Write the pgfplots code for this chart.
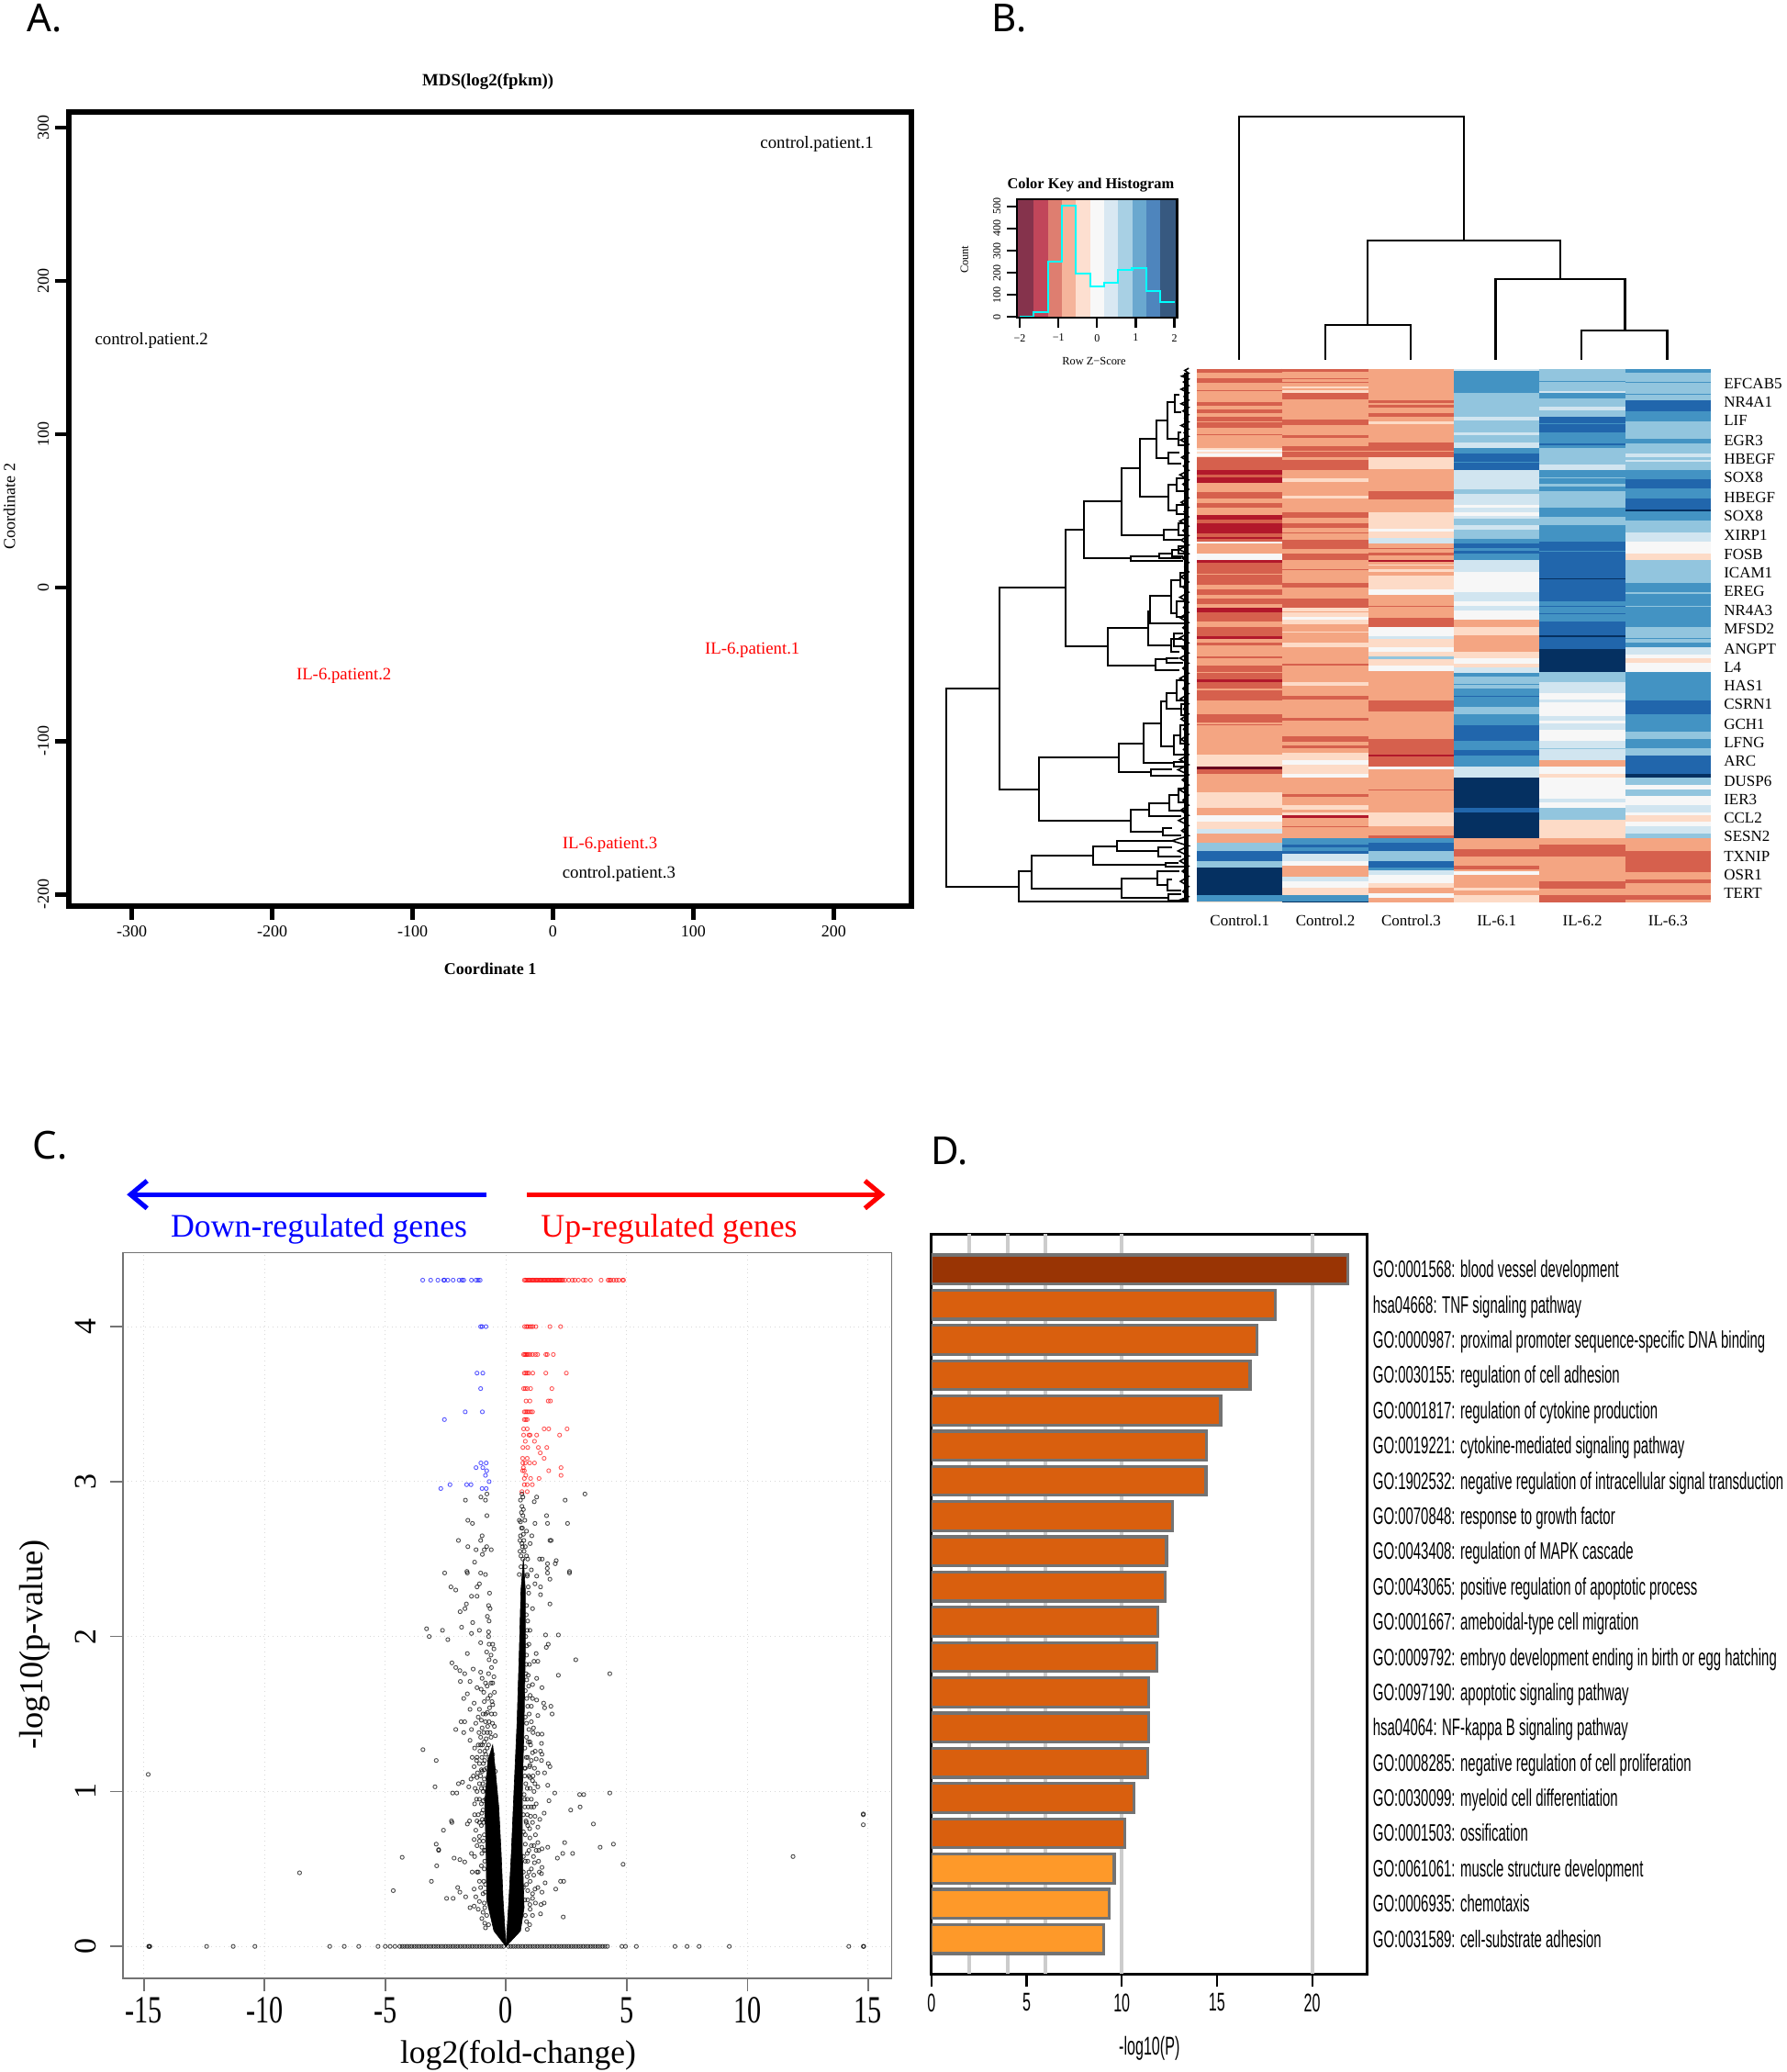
\documentclass[border=0pt]{standalone}
\usepackage{fontspec}
\usepackage{pgfplots}
\usepackage{pgfplotstable}
\pgfplotsset{compat=1.18}
\usetikzlibrary{arrows.meta}
\setmainfont{Liberation Serif}
\newfontfamily\lettersf{Noto Sans}
\newfontfamily\narrowsf[FakeStretch=0.575]{Liberation Sans}
\newfontfamily\tallrm[FakeStretch=0.72]{Liberation Serif}
\newcommand{\fs}[1]{\fontsize{#1}{#1}\selectfont}

% RdBu, 11 levels
\pgfplotsset{
  colormap={rdbu}{rgb255=(103,0,31) rgb255=(178,24,43) rgb255=(214,96,77) rgb255=(244,165,130)
    rgb255=(253,219,199) rgb255=(247,247,247) rgb255=(209,229,240) rgb255=(146,197,222)
    rgb255=(67,147,195) rgb255=(33,102,172) rgb255=(5,48,97)}
}
\definecolor{k0}{RGB}{133,51,76}
\definecolor{k1}{RGB}{193,70,90}
\definecolor{k2}{RGB}{222,126,112}
\definecolor{k3}{RGB}{245,180,155}
\definecolor{k4}{RGB}{253,223,208}
\definecolor{k5}{RGB}{248,248,248}
\definecolor{k6}{RGB}{217,232,242}
\definecolor{k7}{RGB}{168,208,228}
\definecolor{k8}{RGB}{106,168,207}
\definecolor{k9}{RGB}{78,133,189}
\definecolor{k10}{RGB}{55,89,128}
\definecolor{histline}{RGB}{0,255,255}
\definecolor{barA}{HTML}{993404}
\definecolor{barB}{HTML}{D95F0E}
\definecolor{barC}{HTML}{FE9929}

% heatmap columns: top of band (px) and colour level
\pgfplotstableread{
y v
401 2
405 3
411 2
416 3
421 3
424 2
425 3
437 2
441 3
445 2
449 3
453 2
458 3
459 2
465 3
472 2
473 3
487 4
489 5
491 4
493 5
496 4
497 2
505 3
506 2
512 1
517 2
520 1
526 3
536 2
543 3
548 2
553 3
561 1
566 2
570 1
577 1
581 2
585 1
587 2
590 5
592 3
603 5
610 1
613 2
625 3
626 2
637 3
642 2
648 3
652 2
658 3
662 1
667 2
677 3
683 2
693 1
696 3
700 2
703 3
715 2
717 3
725 2
732 3
733 2
740 1
743 2
750 3
752 2
763 3
778 2
787 3
789 2
790 3
800 3
822 4
835 0
838 2
843 3
863 4
880 3
888 5
895 4
903 6
908 3
918 7
927 9
938 7
945 10
975 8
982 4
983 4
}\colA
\pgfplotstableread{
y v
401 2
404 3
411 2
412 3
415 2
416 3
420 4
422 3
424 4
427 2
434 3
456 2
462 3
473 2
476 3
481 3
485 2
490 3
491 2
497 3
500 2
505 3
506 2
512 3
521 4
525 3
540 4
543 3
558 2
564 3
570 2
575 3
580 2
581 3
588 2
598 3
603 2
610 3
620 2
621 3
635 2
640 3
652 2
662 4
666 3
667 4
672 5
675 4
680 3
688 4
689 3
700 4
705 3
723 2
725 3
743 4
747 3
758 2
762 3
782 2
785 3
802 2
808 3
812 2
815 3
820 4
828 5
833 4
843 5
847 3
865 2
868 3
877 4
882 3
885 4
888 1
891 3
900 2
901 3
913 8
920 9
923 8
927 9
930 6
938 5
943 3
955 6
960 5
967 4
975 8
982 10
983 10
}\colB
\pgfplotstableread{
y v
401 3
435 2
438 3
440 2
443 3
449 2
453 3
458 4
461 3
481 2
490 3
491 2
497 4
511 3
535 2
544 3
558 4
576 5
579 4
586 6
592 3
597 2
598 3
602 2
605 3
610 1
612 3
615 4
616 3
620 4
623 3
627 4
642 5
648 3
660 2
661 3
673 2
683 5
693 6
696 4
705 5
710 4
715 7
718 4
725 5
731 3
763 2
775 3
805 2
822 1
824 2
835 5
838 3
860 2
861 3
875 3
885 4
900 3
910 2
913 8
918 9
927 7
938 9
945 8
948 6
953 5
962 4
967 3
973 5
978 3
983 3
}\colC
\pgfplotstableread{
y v
401 6
403 8
427 7
453 6
457 7
470 6
473 7
481 6
487 8
493 9
502 8
503 9
512 6
533 7
538 6
550 5
553 6
558 5
562 6
565 7
572 6
577 7
587 8
592 9
597 8
600 9
603 8
610 6
623 5
645 6
655 5
660 6
665 5
675 3
683 4
692 3
710 4
717 5
723 4
727 6
733 8
737 7
745 8
746 7
750 8
758 9
759 8
770 7
778 8
790 9
807 8
817 9
823 8
835 6
847 10
880 9
885 10
913 3
925 2
933 3
943 2
947 3
949 5
953 3
967 4
970 3
975 4
983 4
}\colD
\pgfplotstableread{
y v
401 7
414 8
415 7
425 6
427 8
433 7
442 6
446 7
453 9
460 8
461 9
470 8
482 9
484 8
487 7
505 6
512 8
520 7
521 8
527 7
530 8
535 7
553 8
563 7
572 8
590 9
600 8
601 9
630 10
631 9
655 8
660 9
661 8
668 9
669 8
677 9
692 10
694 9
707 10
732 7
743 6
755 5
762 6
765 5
780 6
785 5
788 6
795 5
807 6
815 7
816 6
828 3
835 5
843 4
847 5
870 6
874 5
880 7
893 4
913 3
920 2
933 3
960 2
968 3
975 2
983 2
}\colE
\pgfplotstableread{
y v
401 8
405 7
415 8
416 7
428 8
429 7
435 9
447 8
458 7
477 8
482 7
493 6
497 7
500 6
502 7
512 8
522 9
532 8
543 9
555 10
557 8
567 7
580 6
590 5
603 4
610 7
635 8
645 7
647 8
660 7
661 8
677 8
683 7
695 8
696 7
700 8
705 6
713 5
717 4
722 5
732 8
763 9
778 8
797 7
805 8
815 7
823 9
843 10
847 7
855 5
860 7
867 5
877 6
885 5
888 4
895 5
900 6
908 7
913 3
927 2
950 3
958 2
962 3
975 2
980 3
983 3
}\colF

\pgfplotsset{heatcol/.style={mesh, shader=flat corner, line width=46.7pt, point meta=explicit, forget plot}}

\begin{document}
\begin{tikzpicture}
\useasboundingbox (0,0) rectangle (973.44pt,1128.96pt);

% ---- A. MDS
\begin{axis}[
  name=mds, at={(37.44pt,635.04pt)}, anchor=south west,
  scale only axis, width=459.36pt, height=432.72pt,
  xmin=-345, xmax=255.5, ymin=-207.8, ymax=310,
  axis line style={line width=3pt},
  tick pos=left, tick align=outside, major tick length=7.2pt,
  tick style={line width=2.2pt, black},
  xtick={-300,-200,-100,0,100,200}, xticklabels={-300,-200,-100,0,100,200},
  ytick={-200,-100,0,100,200,300}, yticklabels={-200,-100,0,100,200,300},
  tick label style={font=\fs{9}},
  yticklabel style={rotate=90, anchor=south},
  title={\bfseries MDS(log2(fpkm))},
  title style={at={(axis description cs:0.4975,1.0416)}, anchor=center, yshift=-7.4pt, font=\fs{9.4}},
  xlabel={\bfseries Coordinate 1},
  xlabel style={at={(axis description cs:0.5,-0.078)}, anchor=center, font=\fs{9}},
  ylabel={Coordinate 2},
  ylabel style={at={(axis description cs:-0.0705,0.504)}, anchor=center, font=\fs{9}},
  nodes near coords, point meta=explicit symbolic,
  nodes near coords style={anchor=center, font=\fs{9.4}, yshift=-1.4pt, xshift=0.8pt},
  clip=false,
]
\addplot[only marks, mark=none] coordinates {
  (187,291) [control.patient.1]
  (-287,163) [control.patient.2]
  (46,-185) [control.patient.3]
};
\addplot[only marks, mark=none, nodes near coords style={text=red}] coordinates {
  (141,-39) [IL-6.patient.1]
  (-150,-56) [IL-6.patient.2]
  (39.5,-166) [IL-6.patient.3]
};
\end{axis}

% ---- B. colour key
\begin{axis}[
  at={(554.4pt,955.87pt)}, anchor=south west,
  scale only axis, width=87.1pt, height=64.5pt,
  xmin=-2.064, xmax=2.07, ymin=-4, ymax=533,
  axis line style={line width=1.1pt},
  axis on top,
  tick pos=left, tick align=outside, major tick length=5.5pt,
  tick style={line width=1.1pt, black},
  xtick={-2,-1,0,1,2}, xticklabels={−2,−1,0,1,2},
  ytick={0,100,200,300,400,500}, yticklabels={0,100,200,300,400,500},
  tick label style={font=\fs{6}},
  yticklabel style={rotate=90, anchor=south},
  title={\bfseries Color Key and Histogram},
  title style={at={(axis description cs:0.46,1.145)}, anchor=center, yshift=-7.4pt, font=\fs{8.2}},
  xlabel={Row Z−Score},
  xlabel style={at={(axis description cs:0.48,-0.37)}, anchor=center, font=\fs{6.2}},
  ylabel={Count},
  ylabel style={at={(axis description cs:-0.33,0.49)}, anchor=center, font=\fs{6.2}},
]
\addplot[fill=k0,draw=none] coordinates {(-2.064,-4)(-1.636,-4)(-1.636,533)(-2.064,533)} -- cycle;
\addplot[fill=k1,draw=none] coordinates {(-1.636,-4)(-1.273,-4)(-1.273,533)(-1.636,533)} -- cycle;
\addplot[fill=k2,draw=none] coordinates {(-1.273,-4)(-0.909,-4)(-0.909,533)(-1.273,533)} -- cycle;
\addplot[fill=k3,draw=none] coordinates {(-0.909,-4)(-0.545,-4)(-0.545,533)(-0.909,533)} -- cycle;
\addplot[fill=k4,draw=none] coordinates {(-0.545,-4)(-0.182,-4)(-0.182,533)(-0.545,533)} -- cycle;
\addplot[fill=k5,draw=none] coordinates {(-0.182,-4)(0.182,-4)(0.182,533)(-0.182,533)} -- cycle;
\addplot[fill=k6,draw=none] coordinates {(0.182,-4)(0.545,-4)(0.545,533)(0.182,533)} -- cycle;
\addplot[fill=k7,draw=none] coordinates {(0.545,-4)(0.909,-4)(0.909,533)(0.545,533)} -- cycle;
\addplot[fill=k8,draw=none] coordinates {(0.909,-4)(1.273,-4)(1.273,533)(0.909,533)} -- cycle;
\addplot[fill=k9,draw=none] coordinates {(1.273,-4)(1.636,-4)(1.636,533)(1.273,533)} -- cycle;
\addplot[fill=k10,draw=none] coordinates {(1.636,-4)(2.07,-4)(2.07,533)(1.636,533)} -- cycle;
\addplot[const plot, histline, line width=1.1pt] coordinates {
  (-2,0)(-1.636,20)(-1.273,250)(-0.909,505)(-0.545,197)(-0.182,137)(0.182,155)(0.545,212)(0.909,222)(1.273,117)(1.636,68)(2,68)
};
\end{axis}

% ---- B. heatmap
\begin{axis}[
  at={(652.32pt,637.2pt)}, anchor=south west,
  scale only axis, width=280.08pt, height=290.88pt,
  xmin=0.5, xmax=6.5, ymin=401, ymax=983, y dir=reverse,
  point meta min=0, point meta max=10, colormap name=rdbu,
  axis line style={draw=none}, tick style={draw=none},
  clip=true,
  xtick={1,2,3,4,5,6},
  xticklabels={Control.1,Control.2,Control.3,IL-6.1,IL-6.2,IL-6.3},
  xticklabel pos=lower,
  x tick label style={font=\fs{8.5}, yshift=-3.4pt},
  ytick={417.4,437.5,457.7,479.3,499.4,519.6,541.2,561.3,582.9,603.1,623.2,643.4,664.9,685.1,706.7,726.8,747,767.1,788.7,808.9,829,850.6,870.8,890.9,911,932.7,952.8,973},
  yticklabels={EFCAB5,NR4A1,LIF,EGR3,HBEGF,SOX8,HBEGF,SOX8,XIRP1,FOSB,ICAM1,EREG,NR4A3,MFSD2,ANGPT,L4,HAS1,CSRN1,GCH1,LFNG,ARC,DUSP6,IER3,CCL2,SESN2,TXNIP,OSR1,TERT},
  yticklabel pos=right,
  y tick label style={font=\fs{8.5}, anchor=west, xshift=3.6pt},
]
\addplot[heatcol] table[x expr=1, y=y, meta=v] {\colA};
\addplot[heatcol] table[x expr=2, y=y, meta=v] {\colB};
\addplot[heatcol] table[x expr=3, y=y, meta=v] {\colC};
\addplot[heatcol] table[x expr=4, y=y, meta=v] {\colD};
\addplot[heatcol] table[x expr=5, y=y, meta=v] {\colE};
\addplot[heatcol] table[x expr=6, y=y, meta=v] {\colF};
\end{axis}

% ---- B. row dendrogram, in the pixel frame of the crop
\begin{axis}[
  at={(510.26pt,624.24pt)}, anchor=south west,
  scale only axis, width=150.1pt, height=309.6pt,
  xmin=0, xmax=900, ymin=0, ymax=1568, y dir=reverse,
  hide axis, unbounded coords=jump,
]
\addplot[black, line width=1pt] coordinates {
(207,912)(33,912)(33,1460)(270,1460)(nan,nan)
(422,634)(207,634)(207,1190)(337,1190)(nan,nan)
(483,474)(422,474)(422,796)(560,796)(nan,nan)
(607,395)(483,395)(483,553)(636,553)(nan,nan)
(666,303)(607,303)(607,488)(745,488)(nan,nan)
(720,224)(666,224)(666,383)(758,383)(nan,nan)
(755,172)(720,172)(720,276)(758,276)(nan,nan)
(780,122)(755,122)(755,224)(790,224)(nan,nan)
(795,100)(780,100)(780,150)(800,150)(nan,nan)
(800,205)(790,205)(790,240)(810,240)(nan,nan)
(795,262)(758,262)(758,290)(800,290)(nan,nan)
(785,350)(758,350)(758,420)(785,420)(nan,nan)
(810,332)(785,332)(785,368)(810,368)(nan,nan)
(810,405)(785,405)(785,430)(820,430)(nan,nan)
(790,473)(745,473)(745,502)(800,502)(nan,nan)
(810,455)(790,455)(790,490)(815,490)(nan,nan)
(730,546)(636,546)(636,560)(805,560)(nan,nan)
(770,540)(730,540)(730,553)(800,553)(nan,nan)
(790,530)(770,530)(770,548)(805,548)(nan,nan)
(815,518)(790,518)(790,540)(815,540)(nan,nan)
(692,744)(560,744)(560,848)(716,848)(nan,nan)
(700,700)(692,700)(692,793)(768,793)(nan,nan)
(768,657)(700,657)(700,733)(815,733)(nan,nan)
(797,612)(768,612)(768,705)(785,705)(nan,nan)
(815,592)(797,592)(797,630)(815,630)(nan,nan)
(815,670)(785,670)(785,715)(810,715)(nan,nan)
(800,775)(768,775)(768,810)(795,810)(nan,nan)
(805,760)(775,760)(775,795)(815,795)(nan,nan)
(752,832)(716,832)(716,860)(795,860)(nan,nan)
(790,828)(752,828)(752,840)(805,840)(nan,nan)
(598,1103)(337,1103)(337,1277)(636,1277)(nan,nan)
(678,1064)(598,1064)(598,1143)(702,1143)(nan,nan)
(735,1008)(678,1008)(678,1118)(775,1118)(nan,nan)
(752,947)(735,947)(735,1071)(775,1071)(nan,nan)
(785,925)(752,925)(752,968)(800,968)(nan,nan)
(815,890)(785,890)(785,945)(815,945)(nan,nan)
(815,955)(800,955)(800,985)(820,985)(nan,nan)
(797,1042)(775,1042)(775,1095)(810,1095)(nan,nan)
(815,1012)(797,1012)(797,1065)(815,1065)(nan,nan)
(810,1115)(775,1115)(775,1128)(815,1128)(nan,nan)
(770,1135)(702,1135)(702,1152)(810,1152)(nan,nan)
(697,1245)(636,1245)(636,1307)(740,1307)(nan,nan)
(762,1228)(697,1228)(697,1263)(800,1263)(nan,nan)
(790,1205)(762,1205)(762,1250)(815,1250)(nan,nan)
(815,1187)(790,1187)(790,1225)(815,1225)(nan,nan)
(770,1296)(740,1296)(740,1318)(800,1318)(nan,nan)
(312,1417)(270,1417)(270,1500)(825,1500)(nan,nan)
(512,1372)(312,1372)(312,1463)(605,1463)(nan,nan)
(590,1347)(512,1347)(512,1397)(750,1397)(nan,nan)
(770,1332)(590,1332)(590,1360)(725,1360)(nan,nan)
(770,1350)(725,1350)(725,1375)(800,1375)(nan,nan)
(790,1392)(750,1392)(750,1403)(815,1403)(nan,nan)
(722,1437)(605,1437)(605,1490)(760,1490)(nan,nan)
(795,1415)(722,1415)(722,1455)(755,1455)(nan,nan)
(770,1440)(755,1440)(755,1470)(800,1470)(nan,nan)
(800,1480)(760,1480)(760,1497)(825,1497)
};
\addplot[black, line width=0.8pt] coordinates {
(825,28)(812,34)(825,42)(802,50)(825,58)(808,66)(825,76)(800,86)(825,96)(810,106)(825,116)(800,126)(825,136)(806,146)(825,156)(812,166)(825,176)(800,186)(825,196)(810,206)(825,216)(798,226)(825,238)(812,250)(825,262)(802,274)(825,286)(808,298)(825,310)(796,322)(825,336)(806,348)(825,362)(812,374)(825,386)(800,398)(825,412)(810,424)(825,438)(796,450)(825,464)(806,476)(825,490)(800,502)(825,516)(792,528)(825,540)(804,552)(825,564)(812,576)(825,590)(800,604)(825,618)(806,632)(825,646)(796,660)(825,674)(808,688)(825,702)(796,716)(825,730)(806,744)(825,758)(796,772)(825,786)(804,800)(825,814)(796,828)(825,842)(806,856)(825,870)(796,884)(825,898)(806,912)(825,926)(798,940)(825,954)(808,968)(825,982)(800,996)(825,1010)(808,1024)(825,1038)(800,1052)(825,1066)(808,1080)(825,1094)(796,1108)(825,1122)(790,1136)(825,1150)(804,1164)(825,1178)(796,1192)(825,1206)(806,1220)(825,1234)(798,1248)(825,1262)(792,1276)(825,1290)(802,1304)(825,1318)(770,1332)(825,1346)(790,1360)(825,1374)(796,1388)(825,1402)(804,1416)(825,1430)(798,1444)(825,1458)(806,1472)(825,1486)(800,1494)(825,1500)
};
\addplot[black, line width=2.4pt] coordinates {(817,40)(817,1498)};
\end{axis}

% ---- C. volcano
\begin{axis}[
  at={(66.96pt,51.12pt)}, anchor=south west,
  scale only axis, width=419.04pt, height=395.28pt,
  xmin=-15.87, xmax=15.98, ymin=-0.205, ymax=4.477,
  axis line style={draw=black!55, line width=0.8pt},
  tick pos=left, tick align=outside, major tick length=7pt,
  tick style={draw=black!55, line width=0.8pt},
  grid=major, grid style={dotted, black!15, line width=0.4pt},
  xtick={-15,-10,-5,0,5,10,15}, xticklabels={-15,-10,-5,0,5,10,15},
  ytick={0,1,2,3,4}, yticklabels={0,1,2,3,4},
  x tick label style={font=\tallrm\fs{21}},
  y tick label style={font=\fs{17}, rotate=90, anchor=south, yshift=4pt},
  xlabel={log2(fold-change)},
  xlabel style={at={(axis description cs:0.514,-0.1065)}, anchor=center, font=\fs{17.8}},
  ylabel={-log10(p-value)},
  ylabel style={at={(axis description cs:-0.115,0.46)}, anchor=center, font=\fs{18.2}},
  cycle list={},
]
% dense core of the V
\addplot[fill=black, draw=black, line width=0.3pt, forget plot] coordinates {
  (0,0)(-0.5,0.1)(-0.8,0.3)(-0.82,0.6)(-0.88,0.92)(-0.75,1.2)(-0.55,1.3)(-0.45,1.15)(-0.3,0.9)(-0.2,0.6)(-0.12,0.3)(-0.04,0.1)} -- cycle;
\addplot[fill=black, draw=black, line width=0.3pt, forget plot] coordinates {
  (0,0)(0.6,0.1)(0.75,0.25)(0.68,0.6)(0.68,1)(0.75,1.45)(0.8,1.9)(0.8,2.3)(0.72,2.5)(0.62,2.3)(0.55,1.9)(0.46,1.45)(0.33,1)(0.22,0.6)(0.12,0.3)(0.04,0.1)} -- cycle;
% not significant
\addplot[only marks, mark=o, mark size=1.05pt, mark options={draw=black, draw opacity=0.7, line width=0.45pt}] coordinates {
(-14.8,0)(-14.78,0)(-14.75,0)(-12.4,0)(-11.3,0)(-10.4,0)(-7.3,0)(-6.7,0)(-6.1,0)(-5.3,0)(-5,0)(-4.8,0)(-4.6,0)
(-4.4,0)(-4.3,0)(-4.2,0)(-4.1,0)(-4,0)(-3.9,0)(-3.8,0)(-3.7,0)(-3.6,0)(-3.5,0)(-3.4,0)(-3.3,0)(-3.2,0)(-3.1,0)(-3,0)(-2.9,0)(-2.8,0)(-2.7,0)(-2.6,0)(-2.5,0)(-2.4,0)(-2.3,0)(-2.2,0)(-2.1,0)(-2,0)(-1.9,0)(-1.8,0)(-1.7,0)(-1.6,0)(-1.5,0)(-1.4,0)(-1.3,0)(-1.2,0)(-1.1,0)(-1,0)(-0.9,0)(-0.8,0)(-0.7,0)(-0.6,0)(-0.5,0)(-0.4,0)(-0.3,0)(-0.2,0)(-0.1,0)
(0.1,0)(0.2,0)(0.3,0)(0.4,0)(0.5,0)(0.6,0)(0.7,0)(0.8,0)(0.9,0)(1,0)(1.1,0)(1.2,0)(1.3,0)(1.4,0)(1.5,0)(1.6,0)(1.7,0)(1.8,0)(1.9,0)(2,0)(2.1,0)(2.2,0)(2.3,0)(2.4,0)(2.5,0)(2.6,0)(2.7,0)(2.8,0)(2.9,0)(3,0)(3.1,0)(3.2,0)(3.3,0)(3.4,0)(3.5,0)(3.6,0)(3.7,0)(3.8,0)(3.9,0)(4,0)(4.1,0)(4.2,0)
(4.8,0)(4.95,0)(5.4,0)(7,0)(7.5,0)(8,0)(9.25,0)(14.2,0)(14.8,0)(14.82,0)
(-0.79,2.92)(0.66,2.92)(3.27,2.92)(-1.04,2.9)(1.27,2.9)(-1.68,2.88)(-0.85,2.88)(2.45,2.88)(1.17,2.87)(-0.79,2.78)(1.68,2.78)(-1.58,2.75)(-1.39,2.73)(1.72,2.73)(2.55,2.73)(1.2,2.73)(-0.99,2.65)(1.07,2.65)(-1.97,2.62)(-1.05,2.62)(1.82,2.62)(1.87,2.62)(-1.58,2.58)(-0.8,2.58)(-0.61,2.56)(-0.9,2.56)(-1.24,2.56)(-0.98,2.53)(1.39,2.5)(1.5,2.5)(-1.3,2.48)(1.72,2.47)(2.04,2.47)(-2.54,2.41)(-1.6,2.41)(-1.05,2.41)(-0.85,2.4)(1.72,2.41)(2.63,2.41)
(0.55,2.4)(0.62,2.45)(0.7,2.5)(0.58,2.55)(0.66,2.6)(0.75,2.55)(0.6,2.65)(0.68,2.7)(0.55,2.75)(0.64,2.8)(0.72,2.82)(0.6,2.88)(0.85,2.68)(0.9,2.5)(1,2.6)(0.8,2.45)(0.7,2.9)(0.78,2.75)
(0.62,2.52)(0.68,2.58)(0.58,2.62)(0.72,2.66)(0.64,2.7)(0.6,2.74)(0.7,2.78)(0.66,2.84)(0.74,2.62)(0.8,2.58)(0.85,2.52)(0.88,2.4)(0.92,2.32)
(-1.62,2.42)(-2.28,2.32)(-2.08,2.3)(-1.1,2.34)(-1.2,2.32)(-0.68,2.28)(-1.43,2.26)(-1.2,2.26)(-1.64,2.21)(-1.7,2.18)(-1.9,2.16)(-0.72,2.2)(-0.66,2.18)(-0.77,2.13)(-0.7,2.1)(-1.38,2.09)(-1.84,2.06)(-3.29,2.05)(-2.63,2.04)(-3.18,2)(-1.43,2.02)(-1.1,2.04)(-0.72,2.03)(-2.41,1.98)(-0.72,2)(-1.05,1.96)(-0.7,1.95)(-0.55,1.95)
(1.71,2.44)(2.08,2.49)(2.63,2.42)(1.05,2.43)(1.27,2.39)(1.82,2.37)(0.88,2.39)(1.2,2.34)(1.43,2.32)(1.43,2.27)(0.94,2.28)(1.82,2.21)(1.1,2.18)(1.64,2.01)(2.17,2.01)(0.99,2.04)(1.75,1.95)(1.67,1.93)(1.25,1.89)(2.89,1.85)(1.16,1.84)(1.32,1.84)(4.3,1.76)(2.17,1.75)(0.83,1.76)(1.27,1.73)(1.49,1.67)(1.1,1.69)(1.1,1.6)(1.27,1.59)(1.56,1.57)(1.86,1.55)(1.6,1.54)(1.91,1.5)(1.32,1.49)
(0.85,2.2)(0.9,2.1)(0.82,2)(0.95,1.95)(0.85,1.88)(0.92,1.75)(0.8,1.65)(1,1.62)(0.9,1.55)(0.8,1.48)(1.05,1.45)(0.95,1.4)(0.85,1.35)(1.02,1.3)(0.78,1.28)(0.9,1.22)(1.05,1.2)(0.8,1.15)(0.95,1.1)(0.82,1.05)(1,1.02)(0.75,0.98)(0.88,0.95)
(0.84,2.14)(0.88,2.04)(0.86,1.94)(0.84,1.82)(0.97,1.82)(0.86,1.72)(0.94,1.68)(0.86,1.6)(1.05,1.55)(0.96,1.5)(0.85,1.44)(1.12,1.38)(0.92,1.32)(1.1,1.25)(0.84,1.22)(1.18,1.15)(0.98,1.16)(0.78,1.1)(1.12,1.1)(0.88,1.02)(1.2,1.05)(0.78,0.95)(1.05,0.9)(0.92,0.9)(1.25,0.92)(0.72,0.85)(1.02,0.84)(0.84,0.8)(1.2,0.84)(1.4,0.82)(0.72,0.74)(0.98,0.76)(1.22,0.72)(0.8,0.66)(0.95,0.62)(1.25,0.62)(0.72,0.58)(0.9,0.55)(1.18,0.54)(1.35,0.55)(0.72,0.48)(0.95,0.48)(1.15,0.46)(0.72,0.38)(0.9,0.36)(1.1,0.34)(0.78,0.3)(1,0.24)(1.22,0.28)(0.85,0.16)(0.98,0.14)
(-1.6,1.89)(-2.24,1.83)(-2.08,1.8)(-1.91,1.78)(-1.71,1.76)(-1.36,1.79)(-1.05,1.77)(-1.89,1.71)(-1.49,1.71)(-0.99,1.73)(-0.55,1.7)(-1.2,1.67)(-1.03,1.66)(-1.6,1.63)(-1.75,1.6)(-1.32,1.57)(-1.49,1.53)(-1.1,1.53)(-0.77,1.51)(-0.55,1.56)(-1.86,1.45)(-1.71,1.45)(-2.08,1.4)(-1.75,1.38)(-1.25,1.44)(-0.99,1.41)(-1.43,1.4)(-0.77,1.38)(-0.44,1.36)(-1.49,1.33)(-3.44,1.27)(-1.05,1.3)(-0.88,1.26)(-2.89,1.2)(-1.2,1.22)(-0.88,1.2)(-0.55,1.24)(-1.32,1.16)(-0.66,1.16)(-0.99,1.13)(-0.44,1.13)(-1.2,1.09)(-0.77,1.09)(-1.97,1.05)(-1.8,1.06)(-2.94,1.03)(-2.21,0.99)(-2.04,0.99)(-14.82,1.11)(-1.1,1.05)(-1.54,1.03)(-1.2,1)
(-0.8,1.9)(-0.7,1.85)(-0.6,1.8)(-0.85,1.7)(-0.65,1.62)(-0.75,1.6)(-0.9,1.58)(-0.6,1.5)(-0.95,1.5)(-1.15,1.48)(-0.7,1.45)(-0.85,1.45)(-1.05,1.35)(-0.62,1.35)(-0.72,1.3)(-0.9,1.32)(-1.15,1.3)(-1.3,1.28)(-0.7,1.22)(-1,1.22)(-1.1,1.18)(-0.8,1.15)(-0.9,1.08)(-1.05,1.1)(-0.7,1.08)(-0.8,1)(-0.95,1)(-0.85,0.95)(-1.1,0.95)(-1.3,0.92)(-0.95,0.88)(-1.15,0.85)(-0.85,0.82)(-1.02,0.78)(-1.25,0.75)(-0.9,0.72)(-1.1,0.68)(-0.85,0.62)(-1,0.6)(-1.3,0.58)(-0.9,0.5)(-1.15,0.48)(-0.85,0.4)(-1.05,0.38)(-1.25,0.32)(-0.9,0.28)(-0.8,0.2)(-0.95,0.22)
(-0.5,1.92)(-0.62,1.88)(-0.45,1.84)(-0.72,1.76)(-0.5,1.74)(-0.62,1.7)(-0.78,1.68)(-0.48,1.64)(-0.58,1.58)(-0.92,1.64)(-0.68,1.54)(-0.46,1.5)(-0.84,1.5)(-1.02,1.46)(-0.56,1.44)(-0.76,1.42)(-0.92,1.38)(-1.12,1.38)(-0.66,1.38)(-0.48,1.42)(-0.82,1.34)(-0.98,1.3)(-0.78,1.28)(-1.08,1.26)(-1.22,1.2)(-0.94,1.18)(-0.84,1.24)(-1.4,1.22)(-1.02,1.14)(-0.9,1.14)(-1.18,1.12)(-1.35,1.1)(-0.96,1.05)(-0.88,1.02)(-1.02,1.02)(-1.28,1.02)(-1.45,1.08)(-1.02,0.92)(-0.94,0.94)(-1.22,0.95)(-0.98,0.82)(-0.92,0.8)(-1.3,0.85)(-1.1,0.8)(-0.9,0.62)(-0.94,0.68)(-1.2,0.65)(-1.02,0.52)(-0.88,0.55)(-1.1,0.42)(-0.92,0.42)(-0.95,0.34)(-0.86,0.35)(-1.15,0.24)(-0.88,0.25)(-0.72,0.14)(-0.85,0.12)
(1.14,1.41)(1.32,1.37)(1.49,1.37)(1.47,1.31)(0.99,1.32)(1.21,1.26)(1.43,1.26)(1.49,1.24)(1.25,1.21)(1.75,1.18)(1.82,1.16)(0.99,1.17)(1.47,1.2)(1.32,1.12)(1.6,1.12)(0.77,1.15)(0.99,1.09)(1.73,1.04)(1.32,1.03)(1.1,1.07)(2.02,0.99)(1.16,1)(4.3,0.99)
(3.05,0.98)(3.22,0.98)(1.78,0.94)(2.68,0.88)(3.07,0.9)(1.58,0.86)(3.62,0.79)(14.8,0.855)(14.8,0.85)(14.8,0.785)(-2.26,0.81)(-2.24,0.8)(-1.6,0.79)(-1.51,0.81)(-2.59,0.75)(-2.89,0.66)(-2.79,0.625)(-2.79,0.62)(-4.3,0.575)(-2.15,0.57)(-1.91,0.56)(-1.71,0.545)(-2.87,0.52)(-1.4,0.48)(-8.55,0.475)(-3.09,0.42)(-4.67,0.36)(-2,0.38)(-1.91,0.35)(-2.46,0.31)(-2.19,0.31)(-1.67,0.32)(-1.49,0.25)(-1.32,0.26)(-1,0.18)(-0.88,0.15)(-1.1,0.29)(-1.32,0.37)(-1.2,0.48)(-1.43,0.6)(-1,0.64)(-1.32,0.69)(-1.1,0.71)(-1.2,0.81)(-1,0.86)
(2.43,0.67)(3.9,0.64)(4.45,0.66)(2.35,0.6)(2.76,0.6)(2.13,0.57)(11.89,0.58)(4.85,0.53)(1.32,0.67)(1.16,0.65)(1.36,0.62)(1.49,0.63)(1.73,0.64)(1.14,0.58)(1.49,0.51)(1.38,0.48)(1.47,0.47)(2.26,0.42)(2.39,0.42)(1.62,0.41)(2.06,0.37)(1.49,0.35)(1.2,0.37)(1.32,0.38)(1.58,0.28)(1.45,0.27)(2.37,0.19)(1.43,0.21)(1.1,0.2)(0.88,0.11)(0.99,0.27)(1.1,0.31)(0.88,0.45)(0.88,0.6)(0.99,0.7)(0.83,0.81)(0.88,0.85)(1.32,0.77)
(0.8,0.2)(0.9,0.3)(0.85,0.4)(1,0.42)(1.05,0.5)(0.8,0.55)(1.05,0.65)(0.8,0.72)(1.1,0.8)(0.9,0.78)(1.15,0.9)(0.78,0.9)(1.05,0.95)
};
% down
\addplot[only marks, mark=o, mark size=1.05pt, mark options={draw=blue, draw opacity=0.65, line width=0.45pt}] coordinates {
(-3.45,4.3)(-3.12,4.3)(-2.82,4.3)(-2.58,4.3)(-2.55,4.3)(-2.41,4.3)(-2.19,4.3)(-1.94,4.3)(-1.82,4.3)(-1.75,4.3)(-1.43,4.3)(-1.24,4.3)(-1.15,4.3)(-1.07,4.3)
(-1.05,4)(-0.99,4)(-0.83,4)(-1.2,3.7)(-0.96,3.7)(-1.05,3.6)(-1.69,3.45)(-0.98,3.45)(-2.55,3.4)
(-1.04,3.12)(-0.82,3.12)(-1.24,3.09)(-0.96,3.09)(-0.8,3.07)(-0.85,3.04)(-0.7,3)(-2.32,2.98)(-1.63,2.98)(-1.45,2.98)(-2.7,2.955)(-0.99,2.955)(-0.82,2.955)
};
% up
\addplot[only marks, mark=o, mark size=1.05pt, mark options={draw=red, draw opacity=0.65, line width=0.45pt}] coordinates {
(0.76,4.3)(0.81,4.3)(0.86,4.3)(0.91,4.3)(0.96,4.3)(1.01,4.3)(1.06,4.3)(1.11,4.3)(1.16,4.3)(1.21,4.3)(1.26,4.3)(1.31,4.3)(1.36,4.3)(1.41,4.3)(1.46,4.3)(1.51,4.3)(1.56,4.3)(1.61,4.3)(1.66,4.3)(1.71,4.3)(1.76,4.3)(1.81,4.3)(1.86,4.3)(1.91,4.3)(1.96,4.3)(2.01,4.3)(2.06,4.3)(2.11,4.3)(2.16,4.3)(2.21,4.3)(2.26,4.3)(2.31,4.3)(2.36,4.3)(2.45,4.3)(2.6,4.3)(2.75,4.3)(2.85,4.3)(3,4.3)(3.2,4.3)(3.3,4.3)(3.5,4.3)(3.94,4.3)(4.23,4.3)(4.29,4.3)(4.35,4.3)(4.46,4.3)(4.57,4.3)(4.67,4.3)(4.83,4.3)(4.87,4.3)
(0.77,4)(0.85,4)(0.9,4)(0.98,4)(1.05,4)(1.12,4)(1.24,4)(1.82,4)(2.26,4)
(0.73,3.82)(0.78,3.82)(0.82,3.82)(0.87,3.82)(0.92,3.82)(1,3.82)(1.1,3.82)(1.22,3.82)(1.31,3.82)(1.65,3.82)(1.71,3.82)(1.96,3.82)
(0.76,3.7)(0.82,3.7)(0.88,3.7)(0.95,3.7)(1.11,3.7)(1.65,3.7)(2.5,3.7)
(0.73,3.6)(0.8,3.6)(0.88,3.6)(1.02,3.6)(1.9,3.6)
(0.83,3.52)(0.99,3.52)(1.75,3.52)(1.84,3.52)
(0.76,3.45)(0.82,3.45)(0.88,3.45)(0.95,3.45)(1.03,3.45)(1.1,3.45)
(0.76,3.4)(0.82,3.4)(0.88,3.4)
(0.73,3.34)(0.88,3.34)(1.58,3.34)(1.77,3.34)(2.53,3.34)
(0.73,3.3)(0.95,3.3)(1,3.3)(1.27,3.3)(2.22,3.3)
(0.8,3.26)(1.18,3.26)(0.7,3.22)(0.9,3.22)(1.34,3.22)(1.69,3.22)(1.42,3.185)
(0.69,3.15)(0.88,3.15)(1.58,3.15)(0.7,3.12)(0.8,3.12)(0.98,3.12)(1.18,3.12)(0.72,3.09)(2.28,3.09)
(0.69,3.07)(0.76,3.07)(1.77,3.07)(0.82,3.04)(2.28,3.04)(0.76,3.02)(1.02,3.02)(1.37,3.02)
(0.76,2.98)(0.88,2.98)(1.09,2.98)(0.66,2.935)(0.88,2.935)
};
\end{axis}

% ---- D. enrichment bars
\begin{axis}[
  at={(507.6pt,53.28pt)}, anchor=south west,
  scale only axis, width=237.6pt, height=403.2pt,
  xmin=0, xmax=22.9, ymin=0, ymax=21, y dir=reverse,
  axis line style={line width=1.5pt},
  unbounded coords=jump,
  xtick={0,5,10,15,20}, xticklabels={0,5,10,15,20},
  x tick style={line width=1.1pt, black}, xtick pos=lower, tick align=outside, major tick length=7pt,
  x tick label style={font=\narrowsf\fs{14}},
  xlabel={-log10(P)},
  xlabel style={at={(axis description cs:0.5,-0.1)}, anchor=center, font=\narrowsf\fs{14}},
  ytick={1,...,20}, y tick style={draw=none},
  yticklabel pos=right,
  yticklabels={
    GO:0001568: blood vessel development,
    hsa04668: TNF signaling pathway,
    GO:0000987: proximal promoter sequence-specific DNA binding,
    GO:0030155: regulation of cell adhesion,
    GO:0001817: regulation of cytokine production,
    GO:0019221: cytokine-mediated signaling pathway,
    GO:1902532: negative regulation of intracellular signal transduction,
    GO:0070848: response to growth factor,
    GO:0043408: regulation of MAPK cascade,
    GO:0043065: positive regulation of apoptotic process,
    GO:0001667: ameboidal-type cell migration,
    GO:0009792: embryo development ending in birth or egg hatching,
    GO:0097190: apoptotic signaling pathway,
    hsa04064: NF-kappa B signaling pathway,
    GO:0008285: negative regulation of cell proliferation,
    GO:0030099: myeloid cell differentiation,
    GO:0001503: ossification,
    GO:0061061: muscle structure development,
    GO:0006935: chemotaxis,
    GO:0031589: cell-substrate adhesion},
  y tick label style={font=\narrowsf\fs{13}, anchor=west, xshift=-7.5pt, yshift=-1pt, text height=9.5pt, text depth=2.5pt},
  xbar, bar width=15.8pt, bar shift=0pt,
]
\addplot[xbar=0pt, black!20, line width=2.1pt, forget plot, sharp plot] coordinates {(2,0)(2,21)(nan,nan)(4,0)(4,21)(nan,nan)(6,0)(6,21)(nan,nan)(10,0)(10,21)(nan,nan)(20,0)(20,21)};
\addplot[fill=barA, draw=black!55, line width=1.6pt] coordinates {(21.86,1)};
\addplot[fill=barB, draw=black!55, line width=1.6pt] coordinates {
  (18.05,2)(17.09,3)(16.74,4)(15.2,5)(14.45,6)(14.42,7)(12.65,8)(12.35,9)(12.27,10)(11.89,11)(11.83,12)(11.42,13)(11.4,14)(11.37,15)(10.64,16)(10.17,17)};
\addplot[fill=barC, draw=black!55, line width=1.6pt] coordinates {(9.6,18)(9.33,19)(9.04,20)};
\end{axis}

% ---- figure frame in reference pixels / 1.4393: column dendrogram, letters, arrows
\begin{axis}[
  at={(0pt,0pt)}, anchor=south west,
  scale only axis, width=973.44pt, height=1128.96pt,
  xmin=0, xmax=1352, ymin=0, ymax=1568, y dir=reverse,
  hide axis, clip=false, unbounded coords=jump,
]
\addplot[black, line width=1.1pt] coordinates {
(938,272)(938,88)(1108,88)(1108,182)(nan,nan)
(1035,246)(1035,182)(1181,182)(1181,211)(nan,nan)
(1003,272)(1003,246)(1068,246)(1068,272)(nan,nan)
(1132,272)(1132,211)(1230,211)(1230,250)(nan,nan)
(1197,272)(1197,250)(1262,250)(1262,272)
};
\node[font=\lettersf\fs{21}] at (axis cs:34,14) {A.};
\node[font=\lettersf\fs{21}] at (axis cs:764,14) {B.};
\node[font=\lettersf\fs{21}] at (axis cs:38,867) {C.};
\node[font=\lettersf\fs{21}] at (axis cs:719,871) {D.};
\draw[blue, line width=2.6pt, -{Straight Barb[length=9pt,width=15pt,line width=2.6pt]}] (axis cs:368,904) -- (axis cs:96,904);
\draw[red, line width=2.6pt, -{Straight Barb[length=9pt,width=15pt,line width=2.6pt]}] (axis cs:399,904) -- (axis cs:670,904);
\node[text=blue, font=\fs{17.9}] at (axis cs:241.5,930) {Down-regulated genes};
\node[text=red, font=\fs{17.9}] at (axis cs:506.5,930) {Up-regulated genes};
\end{axis}
\end{tikzpicture}
\end{document}
